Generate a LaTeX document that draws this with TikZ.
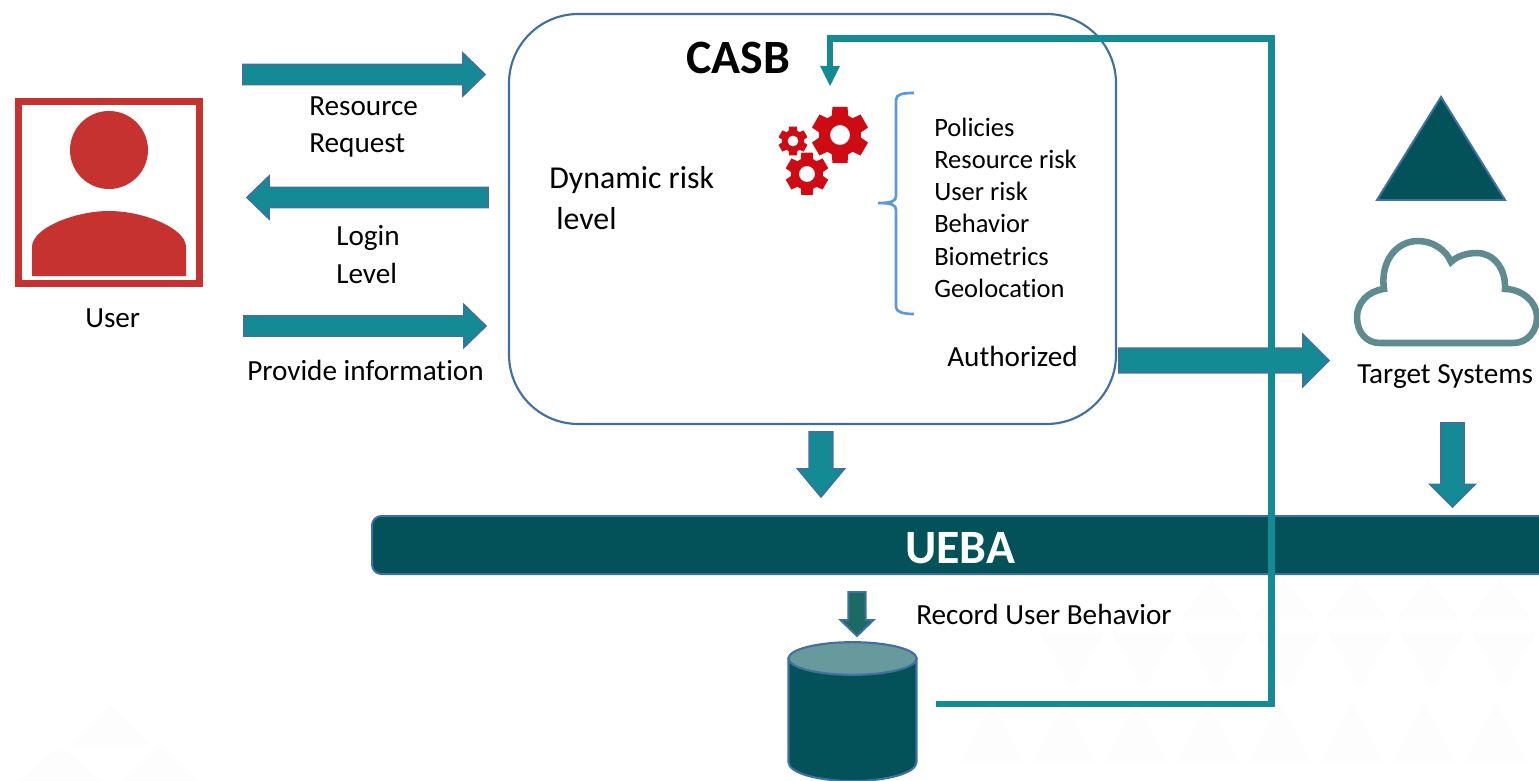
\documentclass[tikz,border=0pt]{standalone}
\usepackage{fontspec}
\setmainfont[Ligatures=CommonOff]{Carlito}
\usetikzlibrary{calc,shapes.geometric}
\definecolor{tealb}{HTML}{138A94}
\definecolor{teald}{HTML}{03525A}
\definecolor{tealg}{HTML}{1B6B65}
\definecolor{edge}{HTML}{41709F}
\definecolor{redu}{HTML}{C6322F}
\definecolor{redg}{HTML}{CE0A14}
\definecolor{bracec}{HTML}{5B9BD5}
\definecolor{cloudc}{HTML}{5F8B90}
\definecolor{dbtop}{HTML}{67999D}
\definecolor{wm}{HTML}{FDFDFD}
\tikzset{
  blockarrow/.style={fill=tealb,draw=edge,line width=1.2pt,line join=miter},
  darkarrow/.style={fill=tealg,draw=edge,line width=1.5pt,line join=miter},
  lab/.style={anchor=base west,inner sep=0pt,yshift=-0.75pt,font=\fontsize{21.9}{26}\selectfont},
  smalllab/.style={anchor=base west,inner sep=0pt,yshift=-0.75pt,font=\fontsize{19.9}{24}\selectfont},
  biglab/.style={anchor=base west,inner sep=0pt,yshift=-0.75pt,font=\fontsize{23.9}{29}\selectfont},
  title/.style={inner sep=0pt,font=\fontsize{35.9}{42}\bfseries\selectfont},
  casbbox/.style={draw=edge,fill=white,line width=1.6pt,rounded corners=52pt,
    minimum width=455.25pt,minimum height=307.5pt,inner sep=0pt},
  bar/.style={draw=edge,fill=teald,line width=1.5pt,rounded corners=7pt,
    minimum width=900pt,minimum height=43.5pt,inner sep=0pt},
  userframe/.style={draw=redu,fill=white,line width=4.9pt,minimum width=135.75pt,
    minimum height=136.5pt,inner sep=0pt},
  feedback/.style={draw=tealb,line width=4.9pt,line join=miter},
}
% #1 from, #2 to, #3 half shaft, #4 head length, #5 half head, #6 style
\newcommand{\blockarrow}[6]{%
  \coordinate (hb) at ($(#2)!#4!(#1)$);
  \draw[#6] ($(#1)!#3!90:(#2)$) -- ($(hb)!#3!-90:(#1)$) -- ($(hb)!#5!-90:(#1)$) -- (#2)
    -- ($(hb)!#5!90:(#1)$) -- ($(hb)!#3!90:(#1)$) -- ($(#1)!#3!-90:(#2)$) -- cycle;
}
% #1 centre, #2 outer, #3 root, #4 hole (units px)
\newcommand{\gear}[4]{%
  \begin{scope}[shift={(#1)}]
  \fill[redg,even odd rule] (30-15:#2)
    foreach \a in {30,90,150,210,270,330}{
      -- (\a-15:#2) -- (\a+15:#2) -- (\a+23:#3) -- (\a+37:#3)
    } -- cycle (0,0) circle[radius=#4];
  \end{scope}
}
\begin{document}
\begin{tikzpicture}[x=0.75pt,y=-0.75pt]
\useasboundingbox (0,0) rectangle (1539,781);
\clip (0,0) rectangle (1539,781);
% faint watermark triangles
\foreach \r/\yt/\yb/\xs in {0/577/620/1180,1/633/690/1040,2/703/763/960}{
  \foreach \i in {0,...,8}{
    \pgfmathsetmacro\xa{\xs+\i*72}
    \pgfmathsetmacro\xb{\xa+32}
    \pgfmathsetmacro\xc{\xa+64}
    \ifodd\r
      \fill[wm] (\xa,\yt) -- (\xc,\yt) -- (\xb,\yb) -- cycle;
    \else
      \fill[wm] (\xa,\yb) -- (\xc,\yb) -- (\xb,\yt) -- cycle;
    \fi
  }
}
\fill[wm] (70,745) -- (110,705) -- (150,745) -- cycle;
\fill[wm] (20,781) -- (60,745) -- (100,781) -- cycle;
\fill[wm] (120,781) -- (160,745) -- (200,781) -- cycle;

% user
\node[userframe] (userbox) at (109,192.5) {};
\fill[redu] (109,150) circle[radius=39];
\fill[redu] (32,276) -- (32,247) .. controls (32,228) and (75,211) .. (109,211)
  .. controls (143,211) and (186,228) .. (186,247) -- (186,276) -- cycle;
\node[lab] (userlab) at (85,326) {User};

% CASB
\node[casbbox] (casb) at (812.5,219) {};
\node[title] (casbt) at (738,58) {CASB};
\node[biglab] (dyn1) at (549,188) {Dynamic risk};
\node[biglab] (dyn2) at (556,228) {level};
\gear{840,135}{29}{21}{10}
\gear{807,174}{22}{16}{8}
\gear{793,141}{15}{11}{5.5}
\draw[bracec,line width=2pt] (914,93) .. controls (903,93) and (896,94) .. (896,100) -- (896,196)
  .. controls (896,201) and (892,203) .. (878,203)
  .. controls (892,203) and (896,205) .. (896,210) -- (896,307)
  .. controls (896,312) and (903,314) .. (914,314);
\node[smalllab] (l1) at (934,136) {Policies};
\node[smalllab] (l2) at (934,168) {Resource risk};
\node[smalllab] (l3) at (934,200) {User risk};
\node[smalllab] (l4) at (934,232) {Behavior};
\node[smalllab] (l5) at (934,264) {Biometrics};
\node[smalllab] (l6) at (934,296) {Geolocation};
\node[lab] (auth) at (947,365) {Authorized};

% left arrows
\coordinate (a1s) at (243,74.5); \coordinate (a1e) at (485,74.5);
\coordinate (a2s) at (488,197.5); \coordinate (a2e) at (247,197.5);
\coordinate (a3s) at (244,326); \coordinate (a3e) at (486,326);
\blockarrow{a1s}{a1e}{7.6pt}{16.5pt}{16pt}{blockarrow}
\blockarrow{a2s}{a2e}{7.6pt}{16.5pt}{16pt}{blockarrow}
\blockarrow{a3s}{a3e}{7.6pt}{16.5pt}{16pt}{blockarrow}
\node[lab] (rr1) at (309,115) {Resource};
\node[lab] (rr2) at (309,152) {Request};
\node[lab] (ll1) at (336,245) {Login};
\node[lab] (ll2) at (336,282) {Level};
\node[lab] (pi) at (247,379) {Provide information};

% target
\coordinate (a4s) at (1119,360.5); \coordinate (a4e) at (1329,360.5);
\blockarrow{a4s}{a4e}{9.2pt}{19.5pt}{19.5pt}{blockarrow}
\draw[draw=edge,fill=teald,line width=1.5pt,line join=miter] (1441,97) -- (1505,200) -- (1377,200) -- cycle;
\draw[cloudc,fill=white,line width=4.9pt] (1380,343) .. controls (1366,343) and (1357,332) .. (1357,317)
  .. controls (1357,303) and (1368,291) .. (1384,289)
  .. controls (1380,262) and (1396,241) .. (1418,241)
  .. controls (1433,241) and (1446,250) .. (1451,262)
  .. controls (1457,256) and (1467,253) .. (1477,253)
  .. controls (1493,253) and (1506,268) .. (1505,289)
  .. controls (1522,289) and (1537,302) .. (1537,317)
  .. controls (1537,332) and (1527,343) .. (1513,343) -- cycle;
\node[lab] (target) at (1357,382) {Target Systems};

% UEBA
\node[bar,anchor=west] (ueba) at (371,545) {};
\node[title,text=white] (uebat) at (960,548) {UEBA};
\coordinate (a5s) at (821,432); \coordinate (a5e) at (821,497);
\coordinate (a6s) at (1452.5,423); \coordinate (a6e) at (1452.5,507);
\coordinate (a7s) at (857,592); \coordinate (a7e) at (857,636);
\blockarrow{a5s}{a5e}{8.8pt}{21pt}{17.5pt}{blockarrow}
\blockarrow{a6s}{a6e}{8.6pt}{17pt}{17pt}{blockarrow}
\blockarrow{a7s}{a7e}{6.4pt}{12pt}{12.4pt}{darkarrow}
\node[lab] (rec) at (916,623) {Record User Behavior};

% database
\draw[draw=edge,fill=teald,line width=1.6pt] (788.5,658.5) -- (788.5,762)
  .. controls (788.5,773) and (818,781) .. (852.5,781)
  .. controls (887,781) and (916.5,773) .. (916.5,762) -- (916.5,658.5) -- cycle;
\node[ellipse,draw=edge,fill=dbtop,line width=1.6pt,minimum width=96pt,minimum height=24.5pt,inner sep=0pt] (dbt) at (852.5,658.5) {};

% feedback connector
\coordinate (fbs) at (936,704);
\coordinate (fb1) at (1271.5,704);
\coordinate (fb2) at (1271.5,38.5);
\coordinate (fb3) at (830,38.5);
\coordinate (fb4) at (830,66);
\coordinate (fbtip) at (830,86);
\draw[feedback] (fbs) -- (fb1) -- (fb2) -- (fb3) -- (fb4);
\fill[tealb] (820,66) -- (840,66) -- (fbtip) -- cycle;
\end{tikzpicture}
\end{document}
